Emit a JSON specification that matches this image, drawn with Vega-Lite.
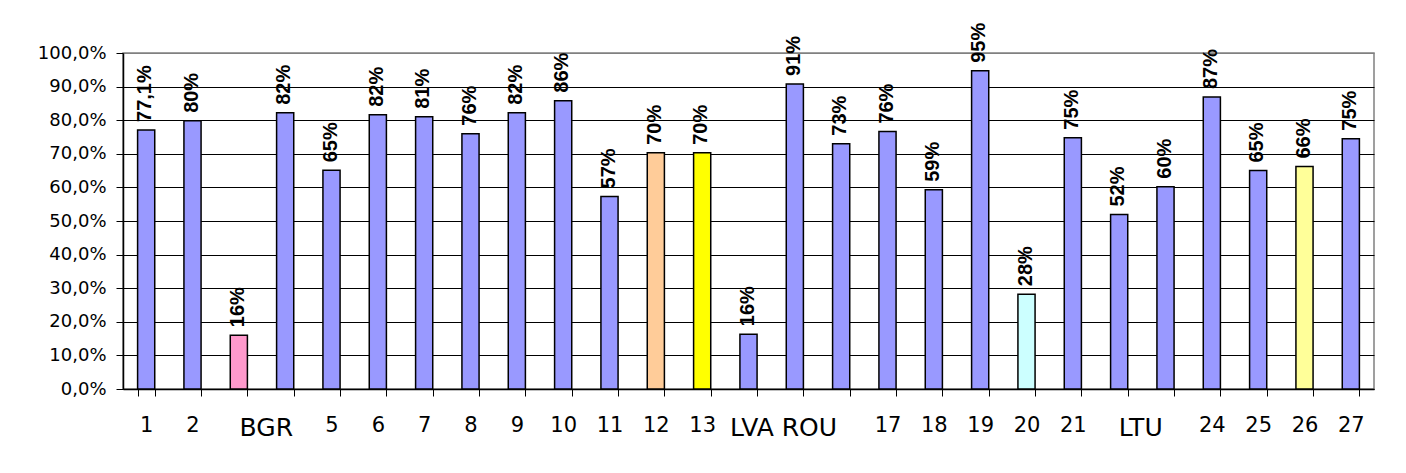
{
  "$schema": "https://vega.github.io/schema/vega-lite/v6.json",
  "autosize": "none",
  "width": 1251,
  "height": 336,
  "padding": {"left": 123, "top": 53, "right": 32, "bottom": 84},
  "background": "white",
  "config": {
    "font": "DejaVu Sans",
    "view": {"stroke": "#808080", "strokeWidth": 1.5}
  },
  "data": {
    "values": [
      {"n": "1", "v": 0.771, "label": "77,1%", "g": "base"},
      {"n": "2", "v": 0.798, "label": "80%", "g": "base"},
      {"n": "3", "v": 0.160, "label": "16%", "g": "pink"},
      {"n": "4", "v": 0.822, "label": "82%", "g": "base"},
      {"n": "5", "v": 0.651, "label": "65%", "g": "base"},
      {"n": "6", "v": 0.816, "label": "82%", "g": "base"},
      {"n": "7", "v": 0.810, "label": "81%", "g": "base"},
      {"n": "8", "v": 0.760, "label": "76%", "g": "base"},
      {"n": "9", "v": 0.822, "label": "82%", "g": "base"},
      {"n": "10", "v": 0.858, "label": "86%", "g": "base"},
      {"n": "11", "v": 0.573, "label": "57%", "g": "base"},
      {"n": "12", "v": 0.703, "label": "70%", "g": "peach"},
      {"n": "13", "v": 0.703, "label": "70%", "g": "yellow"},
      {"n": "14", "v": 0.163, "label": "16%", "g": "base"},
      {"n": "15", "v": 0.908, "label": "91%", "g": "base"},
      {"n": "16", "v": 0.730, "label": "73%", "g": "base"},
      {"n": "17", "v": 0.766, "label": "76%", "g": "base"},
      {"n": "18", "v": 0.593, "label": "59%", "g": "base"},
      {"n": "19", "v": 0.947, "label": "95%", "g": "base"},
      {"n": "20", "v": 0.282, "label": "28%", "g": "cyan"},
      {"n": "21", "v": 0.748, "label": "75%", "g": "base"},
      {"n": "22", "v": 0.519, "label": "52%", "g": "base"},
      {"n": "23", "v": 0.602, "label": "60%", "g": "base"},
      {"n": "24", "v": 0.869, "label": "87%", "g": "base"},
      {"n": "25", "v": 0.650, "label": "65%", "g": "base"},
      {"n": "26", "v": 0.662, "label": "66%", "g": "lightyellow"},
      {"n": "27", "v": 0.745, "label": "75%", "g": "base"}
    ]
  },
  "encoding": {
    "x": {
      "field": "n",
      "type": "nominal",
      "sort": null,
      "scale": {"paddingInner": 0.63, "paddingOuter": 0.315},
      "axis": {
        "title": null,
        "labelAngle": 0,
        "tickBand": "extent",
        "domainColor": "black",
        "domainWidth": 1.5,
        "tickColor": "black",
        "tickSize": 7,
        "labelFontSize": {"condition": {"test": "indexof(['3','14','15','22'], datum.value) >= 0", "value": 25}, "value": 21},
        "labelColor": "black",
        "labelOverlap": false,
        "labelBaseline": "top",
        "labelPadding": {"condition": {"test": "indexof(['3','14','15','22'], datum.value) >= 0", "value": 19}, "value": 18},
        "labelExpr": "datum.value == '3' ? 'BGR' : datum.value == '14' ? 'LVA' : datum.value == '15' ? 'ROU' : datum.value == '22' ? 'LTU' : indexof(['4','16','23'], datum.value) >= 0 ? '' : datum.value",
        "labelOffset": {"condition": [
          {"test": "datum.value == '3'", "value": 27},
          {"test": "datum.value == '14'", "value": 3},
          {"test": "datum.value == '15'", "value": 14},
          {"test": "datum.value == '22'", "value": 21}
        ], "value": 0}
      }
    },
    "y": {
      "field": "v",
      "type": "quantitative",
      "scale": {"domain": [0, 1], "nice": false},
      "axis": {
        "title": null,
        "values": [0, 0.1, 0.2, 0.3, 0.4, 0.5, 0.6, 0.7, 0.8, 0.9, 1],
        "labelExpr": "replace(format(datum.value, '.1%'), '.', ',')",
        "labelFontSize": 18,
        "labelColor": "black",
        "labelOverlap": false,
        "labelPadding": 10,
        "tickSize": 7,
        "tickColor": "black",
        "domainColor": "black",
        "domainWidth": 1.5,
        "grid": true,
        "gridColor": {"condition": {"test": "datum.value == 1", "value": "#808080"}, "value": "black"},
        "gridWidth": 1.2
      }
    }
  },
  "layer": [
    {
      "mark": {"type": "bar", "stroke": "black", "strokeWidth": 1.5},
      "encoding": {
        "color": {
          "field": "g",
          "type": "nominal",
          "legend": null,
          "scale": {
            "domain": ["base", "pink", "peach", "yellow", "cyan", "lightyellow"],
            "range": ["#9999FF", "#FF99CC", "#FFCC99", "#FFFF00", "#CCFFFF", "#FFFF99"]
          }
        }
      }
    },
    {
      "mark": {"type": "text", "angle": 270, "align": "left", "baseline": "middle", "dx": 8, "dy": -1, "font": "Liberation Sans", "fontSize": 20, "fontWeight": "bold", "color": "black"},
      "encoding": {
        "text": {"field": "label"}
      }
    }
  ]
}
